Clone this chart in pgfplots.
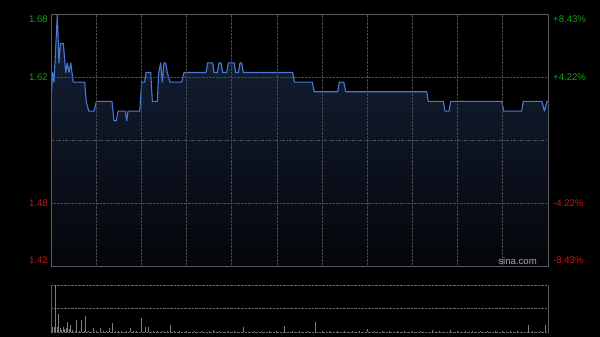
\documentclass[border=0pt]{standalone}
\usepackage{fontspec}
\setmainfont{Liberation Sans}
\usepackage{pgfplots}
\usepackage{pgfplotstable}
\pgfplotsset{compat=1.18}
\definecolor{gridc}{RGB}{75,75,75}
\definecolor{midc}{RGB}{85,85,85}
\definecolor{volgrid}{RGB}{105,105,105}
\definecolor{borderc}{RGB}{90,90,90}
\definecolor{linec}{RGB}{72,122,212}
\definecolor{filltop}{RGB}{22,34,58}
\definecolor{fillbot}{RGB}{4,6,10}
\definecolor{upc}{RGB}{20,160,20}
\definecolor{downc}{RGB}{205,20,20}
\definecolor{volc}{RGB}{125,125,125}
\pgfplotstableread{
t p
0 1.59
1.1 1.62
2 1.61
4.2 1.68
5.3 1.63
6.2 1.65
8.2 1.65
9.8 1.62
10.8 1.63
12 1.62
13.1 1.63
14.8 1.61
22.4 1.61
23.4 1.59
25 1.58
28.6 1.58
30.1 1.59
40.5 1.59
41.8 1.57
43.4 1.57
44.5 1.58
49.3 1.58
50.3 1.57
51.1 1.58
58.9 1.58
60.2 1.61
62.2 1.61
63.1 1.62
66.2 1.62
67.3 1.59
70.6 1.59
71.5 1.62
72.8 1.63
73.9 1.61
75 1.63
76.2 1.63
77.2 1.62
79 1.61
86.8 1.61
88.3 1.62
102.9 1.62
104 1.63
107.4 1.63
108.2 1.62
110.5 1.62
111.6 1.63
112.9 1.63
114 1.62
116.7 1.62
117.7 1.63
121.7 1.63
122.6 1.62
124.5 1.62
125.5 1.63
126.6 1.63
127.7 1.62
160.5 1.62
161.6 1.61
173.5 1.61
174.8 1.60
190.4 1.60
191.4 1.61
194.4 1.61
195.7 1.60
249.5 1.60
250.5 1.59
260.5 1.59
261.6 1.58
264.3 1.58
265.4 1.59
299.3 1.59
300.6 1.58
312.5 1.58
313.6 1.59
326 1.59
327.6 1.58
329.3 1.59
330 1.59
}\price
\pgfplotstableread{
t v
0 15
1 5
2 5
3 47
4 5
5 18
6 4
7 2
8 5
9 3
10 4
11 10
12 3
13 7
14 2
16 1
17 12
19 1
20 12
22 1
23 16
25 1
28 4
30 1
33 4
35 1
37 1
39 4
41 9
43 1
45 1
47 1
50 1
53 4
55 1
57 1
60 14
63 5
65 5
68 1
71 1
74 1
77 1
79 7
82 1
85 1
90 1
95 1
100 1
105 1
108 2
112 1
118 1
122 1
128 5
135 1
140 1
145 1
150 1
155 6
160 1
165 1
170 1
175.5 10
180 1
185 1
190 1
195 1
200 1
205 1
210 3
215 1
220 1
225 1
230 1
235 1
240 1
245 1
253 2
258 1
265 2
270 1
275 1
280 1
285 1
290 1
295 1
300 1
305 1
310 1
317 7
320 1
325 1
328.5 7
}\vol
\begin{document}
\begin{tikzpicture}
\fill[black] (0,0) rectangle (600bp,337bp);
\begin{axis}[
  at={(51bp,71bp)}, anchor=south west,
  width=497bp, height=252bp, scale only axis,
  xmin=0, xmax=330, ymin=1.4193, ymax=1.6807,
  xtick={30,60,...,300}, ytick={1.4846,1.6154},
  xticklabels={}, yticklabels={},
  tick style={draw=none},
  grid=major, grid style={densely dotted, gridc, line width=0.8bp},
  extra y ticks={1.55}, extra y tick labels={},
  extra y tick style={grid style={dash pattern=on 3bp off 1.5bp on 1bp off 1.5bp, midc, line width=0.8bp}},
  axis line style={borderc, line width=0.9bp},
  axis on top,
]
\addplot[draw=none, top color=filltop, bottom color=fillbot] table[x=t,y=p] {\price} -- (axis cs:330,1.4193) -- (axis cs:0,1.4193) -- cycle;
\addplot[linec, line width=1.1bp, line join=round] table[x=t,y=p] {\price};
\end{axis}
\begin{axis}[
  at={(51bp,5bp)}, anchor=south west,
  width=497bp, height=47bp, scale only axis,
  xmin=0, xmax=330, ymin=0, ymax=47,
  xtick=\empty, ytick={0,23.5,47}, yticklabels={},
  tick style={draw=none},
  ymajorgrids, grid style={densely dotted, volgrid, line width=0.9bp},
  axis line style={draw=none},
  clip=false,
]
\addplot[ycomb, volc, line width=0.9bp, mark=none] table[x=t,y=v] {\vol};
\draw[borderc, line width=0.9bp] (rel axis cs:0,0) -- (rel axis cs:0,1);
\draw[borderc, line width=0.9bp] (rel axis cs:1,0) -- (rel axis cs:1,1);
\end{axis}
\begin{scope}[font=\fontsize{9.6bp}{11bp}\selectfont]
\node[anchor=east, text=upc, inner sep=0pt] at (48bp,318bp) {1.68};
\node[anchor=east, text=upc, inner sep=0pt] at (48bp,260bp) {1.62};
\node[anchor=east, text=downc, inner sep=0pt] at (48bp,134bp) {1.48};
\node[anchor=east, text=downc, inner sep=0pt] at (48bp,77bp) {1.42};
\node[anchor=west, text=upc, inner sep=0pt] at (553bp,318bp) {+8.43\%};
\node[anchor=west, text=upc, inner sep=0pt] at (553bp,260bp) {+4.22\%};
\node[anchor=west, text=downc, inner sep=0pt] at (553bp,134bp) {-4.22\%};
\node[anchor=west, text=downc, inner sep=0pt] at (553bp,77bp) {-8.43\%};
\node[anchor=east, text=gray!70, inner sep=0pt] at (537bp,76bp) {sina.com};
\end{scope}
\end{tikzpicture}
\end{document}
